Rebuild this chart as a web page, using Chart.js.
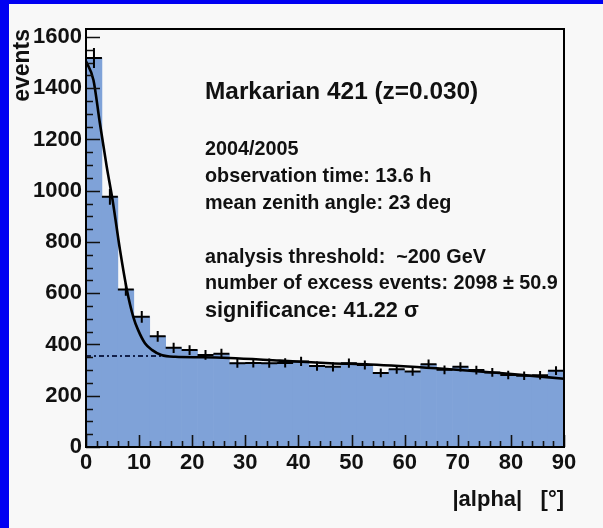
<!DOCTYPE html>
<html lang="en">
<head>
<meta charset="UTF-8">
<title>Markarian 421 - alpha plot</title>
<script src="https://cdn.jsdelivr.net/npm/chart.js"></script>
<style>
  body { margin: 0; background: #0000f2; }
  #frame { position: absolute; left: 9px; top: 4px; width: 594px; height: 524px; background: #f8f8f8; }
</style>
</head>
<body>
<div id="frame"><canvas id="alphaPlot" width="594" height="524"></canvas></div>
<script>
// |alpha| distribution, 3 degree bins
const binCenters = [1.5, 4.5, 7.5, 10.5, 13.5, 16.5, 19.5, 22.5, 25.5, 28.5,
                    31.5, 34.5, 37.5, 40.5, 43.5, 46.5, 49.5, 52.5, 55.5, 58.5,
                    61.5, 64.5, 67.5, 70.5, 73.5, 76.5, 79.5, 82.5, 85.5, 88.5];
const events = [1518, 976, 615, 508, 432, 387, 378, 359, 364, 327,
                328, 327, 328, 334, 316, 313, 327, 320, 289, 303,
                295, 323, 301, 313, 300, 291, 281, 278, 280, 298];
const eventErrors = [39, 31, 25, 23, 21, 20, 19, 19, 19, 18,
                     18, 18, 18, 18, 18, 18, 18, 18, 17, 17,
                     17, 18, 17, 18, 17, 17, 17, 17, 17, 17];

// fitted curve (signal peak + background)
const fitAlpha  = [0, 1.4, 2.6, 3.9, 5.0, 6.4, 7.7, 8.9, 9.8, 11.1, 12.4, 14.2, 16.8, 22, 27, 36.5, 46, 53.5, 66, 78.5, 90];
const fitEvents = [1505, 1432, 1265, 1094, 964, 769, 613, 508, 457, 405, 379, 359, 352, 350, 347, 337, 327, 322, 307, 288, 266];

// background level under the signal region
const bgAlpha  = [0, 14.5];
const bgEvents = [355, 355];

// axis ticks
const xTickValues = [0, 10, 20, 30, 40, 50, 60, 70, 80, 90];
const yTickValues = [0, 200, 400, 600, 800, 1000, 1200, 1400, 1600];

const FONT = "'Liberation Sans', Arial, Helvetica, sans-serif";

const infoLines = [
  { text: "Markarian 421 (z=0.030)", y: 88, size: 24.4 },
  { text: "2004/2005", y: 146, size: 19.8 },
  { text: "observation time: 13.6 h", y: 173, size: 19.8 },
  { text: "mean zenith angle: 23 deg", y: 200, size: 19.8 },
  { text: "analysis threshold:  ~200 GeV", y: 254, size: 19.8 },
  { text: "number of excess events: 2098 \u00b1 50.9", y: 280, size: 19.8 },
  { text: "significance: 41.22 \u03c3", y: 307, size: 21.7 }
];

// error crosses on each bin
const crossPlugin = {
  id: "crosses",
  afterDatasetDraw(chart, args) {
    if (args.index !== 0) return;
    const ctx = chart.ctx, x = chart.scales.x, y = chart.scales.y;
    ctx.save();
    ctx.strokeStyle = "#000";
    ctx.lineWidth = 2;
    ctx.beginPath();
    binCenters.forEach((c, i) => {
      const px = x.getPixelForValue(c);
      const x0 = x.getPixelForValue(c - 1.5), x1 = x.getPixelForValue(c + 1.5);
      const py = y.getPixelForValue(events[i]);
      ctx.moveTo(x0, py); ctx.lineTo(x1, py);
      ctx.moveTo(px, y.getPixelForValue(events[i] - eventErrors[i]));
      ctx.lineTo(px, y.getPixelForValue(events[i] + eventErrors[i]));
    });
    ctx.stroke();
    ctx.restore();
  }
};

// frame, inner ticks and text box
const framePlugin = {
  id: "frame",
  afterDatasetsDraw(chart) {
    const ctx = chart.ctx, a = chart.chartArea, x = chart.scales.x, y = chart.scales.y;
    ctx.save();
    ctx.strokeStyle = "#111";
    ctx.lineWidth = 1.6;
    ctx.beginPath();
    for (let v = 0; v <= 90; v += 2) {
      const px = Math.round(x.getPixelForValue(v)) + 0.5;
      const len = v % 10 === 0 ? 12 : 6;
      ctx.moveTo(px, a.bottom); ctx.lineTo(px, a.bottom - len);
    }
    for (let v = 0; v <= 1600; v += 50) {
      const py = Math.round(y.getPixelForValue(v)) + 0.5;
      const len = v % 200 === 0 ? 14 : 7;
      ctx.moveTo(a.left, py); ctx.lineTo(a.left + len, py);
    }
    ctx.stroke();
    ctx.lineWidth = 2;
    ctx.strokeStyle = "#000";
    ctx.strokeRect(a.left, a.top, a.right - a.left, a.bottom - a.top);
    ctx.restore();
  },
  afterDraw(chart) {
    const ctx = chart.ctx, a = chart.chartArea;
    ctx.save();
    ctx.fillStyle = "#111";
    ctx.textBaseline = "middle";
    infoLines.forEach(l => {
      ctx.font = "bold " + l.size + "px " + FONT;
      ctx.fillText(l.text, a.left + 119, l.y);
    });
    ctx.restore();
  }
};

new Chart(document.getElementById("alphaPlot"), {
  type: "bar",
  data: {
    datasets: [
      {
        type: "bar",
        data: binCenters.map((c, i) => ({ x: c, y: events[i] })),
        backgroundColor: "#7fa2d8",
        borderWidth: 0,
        barPercentage: 1,
        categoryPercentage: 1,
        order: 3
      },
      {
        type: "line",
        data: bgAlpha.map((a, i) => ({ x: a, y: bgEvents[i] })),
        borderColor: "#12204a",
        borderWidth: 2,
        borderDash: [5, 3, 2, 3],
        pointRadius: 0,
        fill: false,
        order: 2
      },
      {
        type: "line",
        data: fitAlpha.map((a, i) => ({ x: a, y: fitEvents[i] })),
        borderColor: "#000",
        borderWidth: 2.6,
        pointRadius: 0,
        cubicInterpolationMode: "monotone",
        fill: false,
        order: 1
      }
    ]
  },
  options: {
    responsive: false,
    animation: false,
    layout: { padding: { left: 0, top: 25, right: 39, bottom: 15 } },
    plugins: { legend: { display: false }, tooltip: { enabled: false } },
    scales: {
      x: {
        type: "linear",
        min: 0,
        max: 90,
        offset: false,
        grid: { display: false, drawTicks: false },
        border: { display: false },
        afterBuildTicks(s) { s.ticks = xTickValues.map(v => ({ value: v })); },
        ticks: { padding: 3, autoSkip: false, maxRotation: 0, color: "#111",
                 callback: v => String(v),
                 font: { family: FONT, size: 22, weight: "bold" } },
        title: { display: true, text: "|alpha|   [\u00b0]", align: "end", padding: 0, color: "#111",
                 font: { family: FONT, size: 22, weight: "bold" } },
        afterFit(s) { s.height = 66; }
      },
      y: {
        type: "linear",
        min: 0,
        max: 1631,
        grid: { display: false, drawTicks: false },
        border: { display: false },
        afterBuildTicks(s) { s.ticks = yTickValues.map(v => ({ value: v })); },
        ticks: { padding: 4, autoSkip: false, color: "#111",
                 callback: v => String(v),
                 font: { family: FONT, size: 22, weight: "bold" } },
        title: { display: true, text: "events", align: "end", padding: 0, color: "#111",
                 font: { family: FONT, size: 23, weight: "bold" } },
        afterFit(s) { s.width = 77; }
      }
    }
  },
  plugins: [crossPlugin, framePlugin]
});
</script>
</body>
</html>
